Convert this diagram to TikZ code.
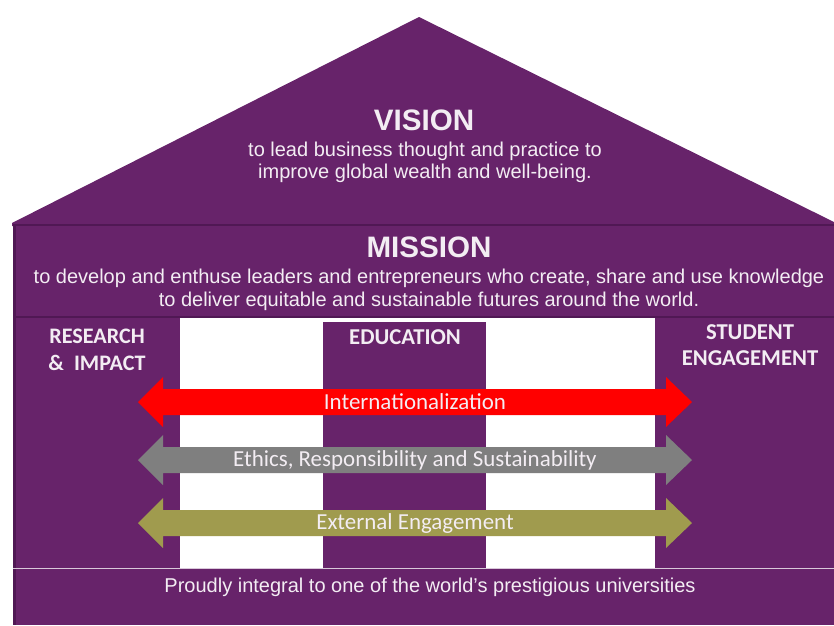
\documentclass[tikz,border=0pt]{standalone}
\usepackage{fontspec}
\setmainfont{Carlito}
\newfontfamily\arialfont{Liberation Sans}
\usetikzlibrary{positioning}

\definecolor{housepurple}{RGB}{103,35,106}
\definecolor{edgepurple}{RGB}{80,24,84}
\definecolor{labelwhite}{RGB}{243,237,243}
\definecolor{intlred}{RGB}{255,0,0}
\definecolor{ethicsgray}{RGB}{127,127,127}
\definecolor{engageolive}{RGB}{160,155,78}

\begin{document}
\begin{tikzpicture}[x=0.75pt,y=-0.75pt,
    heading/.style={text=labelwhite, font=\arialfont\bfseries\fontsize{22.2}{25}\selectfont},
    statement/.style={text=labelwhite, align=center, font=\arialfont\fontsize{15}{16.5}\selectfont},
    pillar/.style={text=labelwhite, align=center, font=\bfseries\fontsize{17}{20}\selectfont},
    bandtext/.style={text=labelwhite, font=\fontsize{17.2}{19}\selectfont}]

    \useasboundingbox (0,0) rectangle (834,625);

    % Roof
    \fill[housepurple] (12,223) -- (419,17) -- (834,222) -- (834,226) -- (12,226) -- cycle;

    % Walls, with a shadow on the left side
    \fill[housepurple] (13,224) rectangle (834,625);
    \fill[edgepurple] (13,224) rectangle (16,625);
    \draw[edgepurple, line width=1.5] (13,225) -- (834,225);
    \draw[edgepurple, line width=1.5] (13,317) -- (834,317);

    % Openings between the pillars
    \fill[white] (180,318) rectangle (655,568);
    \fill[housepurple] (323,322) rectangle (486,568);
    \draw[white!75!housepurple] (13,568.5) -- (834,568.5);

    % Vision and mission
    \node[heading] (vision) at (424,120) {VISION};
    \node[statement] (visiontext) at (425,162) {to lead business thought and practice to\\improve global wealth and well-being.};
    \node[heading] (mission) at (429,247) {MISSION};
    \node[statement, font=\arialfont\fontsize{15}{17.25}\selectfont] (missiontext) at (429,290)
        {to develop and enthuse leaders and entrepreneurs who create, share and use knowledge\\to deliver equitable and sustainable futures around the world.};

    % Pillars
    \node[pillar, font=\bfseries\fontsize{16.6}{20}\selectfont] (research) at (97,350) {RESEARCH\\\&\ \ IMPACT};
    \node[pillar] (education) at (405,337) {EDUCATION};
    \node[pillar, font=\bfseries\fontsize{17}{19.5}\selectfont] (student) at (750,345) {STUDENT\\ENGAGEMENT};

    % Cross-cutting themes (double-headed arrows)
    \foreach \y/\col/\txt in {402/intlred/Internationalization,
                              460/ethicsgray/{Ethics, Responsibility and Sustainability},
                              523/engageolive/External Engagement} {
        \fill[\col] (138,\y) -- (163,\y-25) -- (163,\y-13) -- (666,\y-13) -- (666,\y-25)
            -- (692,\y) -- (666,\y+25) -- (666,\y+13) -- (163,\y+13) -- (163,\y+25) -- cycle;
        \node[bandtext] (theme\y) at (415,\y) {\txt};
    }

    % Foundation
    \node[statement, font=\arialfont\fontsize{15}{17}\selectfont] (foundation) at (430,587)
        {Proudly integral to one of the world’s prestigious universities};
\end{tikzpicture}
\end{document}
